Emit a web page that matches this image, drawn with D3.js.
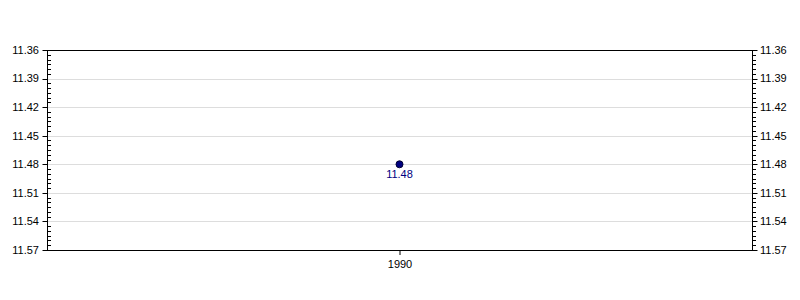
<!DOCTYPE html>
<html>
<head>
<meta charset="utf-8">
<script src="https://cdn.jsdelivr.net/npm/d3@7"></script>
<style>
  body { margin: 0; background: #fff; }
  svg text { font-family: "Liberation Sans", Arial, sans-serif; }
</style>
</head>
<body>
<div id="chart"></div>
<script>
// data
const years = ["1990"];
const values = [11.48];
const yTicks = [11.36, 11.39, 11.42, 11.45, 11.48, 11.51, 11.54, 11.57];

const svgwidth = 800, svgheight = 300;
const margin = {top: 50, bottom: 50, left: 47, right: 48};
const font_size = 11;

let svg = d3.select("#chart").append("svg")
    .attr("width", svgwidth)
    .attr("height", svgheight);

let xScale = d3.scalePoint()
    .domain(years)
    .range([margin.left, svgwidth - margin.right])
    .padding(0.5);

// inverted y: small at top
let yScale = d3.scaleLinear()
    .domain([yTicks[0], yTicks[yTicks.length - 1]])
    .range([margin.top, svgheight - margin.bottom]);

let minorTicks = d3.range(yTicks[0], yTicks[yTicks.length - 1] + 0.0001, 0.005)
    .filter(v => !yTicks.some(t => Math.abs(t - v) < 1e-6));

// gridlines
svg.append("g").attr("class", "grid")
    .selectAll("line")
    .data(yTicks)
    .enter().append("line")
    .attr("x1", margin.left).attr("x2", svgwidth - margin.right)
    .attr("y1", d => Math.round(yScale(d)) + 0.5)
    .attr("y2", d => Math.round(yScale(d)) + 0.5)
    .style("stroke", "#dddddd");

// top and bottom border
[margin.top, svgheight - margin.bottom].forEach(y => {
    svg.append("line")
        .attr("x1", margin.left).attr("x2", svgwidth - margin.right)
        .attr("y1", y + 0.5).attr("y2", y + 0.5)
        .style("stroke", "#000");
});

// y axes (left and right)
function drawYAxis(x, side) {
    let g = svg.append("g").attr("class", "yAxis");
    g.append("line")
        .attr("x1", x + 0.5).attr("x2", x + 0.5)
        .attr("y1", margin.top).attr("y2", svgheight - margin.bottom + 1)
        .style("stroke", "#000");
    g.selectAll(".minor")
        .data(minorTicks)
        .enter().append("line")
        .attr("class", "minor")
        .attr("x1", x).attr("x2", x + 4)
        .attr("y1", d => Math.round(yScale(d)) + 0.5)
        .attr("y2", d => Math.round(yScale(d)) + 0.5)
        .style("stroke", "#000");
    g.selectAll(".major")
        .data(yTicks)
        .enter().append("line")
        .attr("class", "major")
        .attr("x1", x + 0.5).attr("x2", x + 0.5 + side * 5)
        .attr("y1", d => Math.round(yScale(d)) + 0.5)
        .attr("y2", d => Math.round(yScale(d)) + 0.5)
        .style("stroke", "#000");
    g.selectAll("text")
        .data(yTicks)
        .enter().append("text")
        .text(d => d.toFixed(2))
        .attr("x", x + side * 8)
        .attr("y", d => yScale(d))
        .attr("dy", "0.35em")
        .attr("text-anchor", side < 0 ? "end" : "start")
        .style("font-size", font_size + "px")
        .style("fill", "#000");
}
drawYAxis(margin.left, -1);
drawYAxis(svgwidth - margin.right, 1);

// x axis
let xAxis = d3.axisBottom(xScale).tickSize(5).tickSizeOuter(0);
let x_ax = svg.append("g")
    .attr("transform", `translate(0,${svgheight - margin.bottom})`)
    .call(xAxis);
x_ax.select(".domain").remove();
x_ax.selectAll("text")
    .style("font-size", font_size + "px")
    .style("font-family", "Liberation Sans, Arial, sans-serif")
    .attr("dy", "0.95em");

// points and labels
let pts = years.map((y, i) => ({year: y, value: values[i]}));
svg.append("g").selectAll("circle")
    .data(pts)
    .enter().append("circle")
    .attr("cx", d => xScale(d.year))
    .attr("cy", d => yScale(d.value))
    .attr("r", 3.5)
    .style("fill", "#000080")
    .style("stroke", "#000033")
    .style("stroke-width", 1);
svg.append("g").selectAll("text")
    .data(pts)
    .enter().append("text")
    .text(d => d.value.toFixed(2))
    .attr("x", d => xScale(d.year))
    .attr("y", d => yScale(d.value) + 14)
    .attr("text-anchor", "middle")
    .style("font-size", font_size + "px")
    .style("fill", "#000080");
</script>
</body>
</html>
